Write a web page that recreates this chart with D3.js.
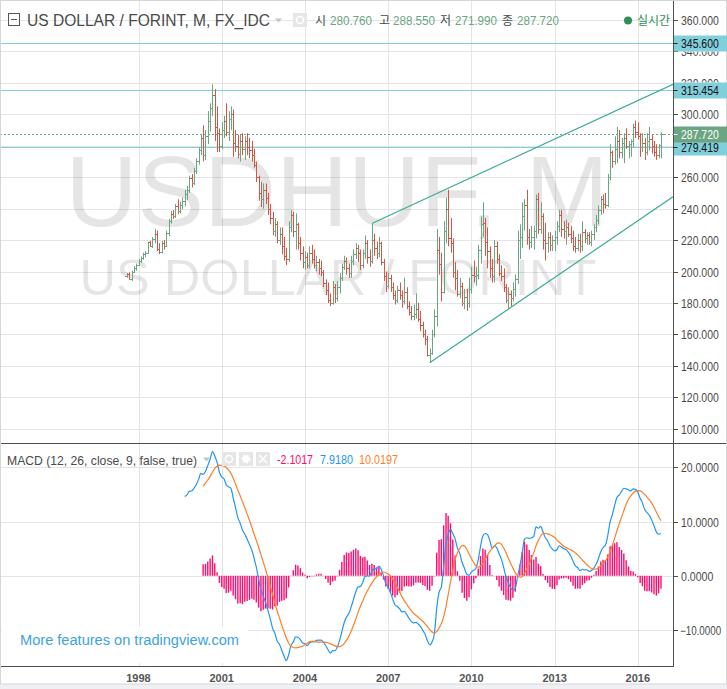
<!DOCTYPE html>
<html>
<head>
<meta charset="utf-8">
<script src="https://cdnjs.cloudflare.com/ajax/libs/d3/7.8.5/d3.min.js"></script>
<style>
  html, body { margin: 0; padding: 0; background: #fff; }
  svg { display: block; font-family: Arial, "Liberation Sans", sans-serif; }
</style>
</head>
<body>
<svg id="chart"></svg>
<script>
// monthly bars, first bar = Aug 1997
const firstMonth = [1997, 7];

const opens = [
  197.0, 198.5, 195.5, 199.5, 202.5,
  204.0, 207.0, 208.5, 211.0, 212.0, 218.5, 216.5, 220.5, 224.0, 214.5, 212.5, 218.0,
  216.5, 224.5, 232.0, 236.5, 235.0, 241.5, 238.5, 242.5, 245.0, 249.5, 252.0, 259.5,
  256.0, 264.0, 270.0, 277.0, 285.0, 274.0, 286.0, 296.0, 304.0, 312.0, 292.0, 288.0,
  280.0, 290.0, 296.0, 289.0, 297.0, 300.0, 282.0, 280.0, 275.0, 283.0, 278.0, 283.0,
  279.0, 277.0, 274.0, 268.0, 260.0, 250.0, 246.0, 252.0, 247.0, 240.0, 234.0, 226.0,
  230.0, 220.0, 224.0, 216.0, 210.0, 208.0, 228.0, 236.0, 226.0, 230.0, 218.0, 212.0,
  206.0, 209.0, 204.0, 212.0, 208.0, 204.0, 206.0, 202.0, 200.0, 193.0, 188.0, 182.0,
  180.0, 190.0, 183.0, 190.0, 196.0, 203.0, 207.0, 202.0, 199.0, 207.0, 211.0, 215.0,
  212.0, 204.0, 212.0, 218.0, 209.0, 207.0, 220.0, 215.0, 212.0, 218.0, 206.0, 197.0,
  191.0, 196.0, 190.0, 185.0, 182.0, 188.0, 185.0, 181.0, 187.0, 178.0, 174.0, 172.0,
  173.0, 176.0, 170.0, 166.0, 160.0, 157.0, 147.0, 148.0, 160.0, 172.0, 214.0, 205.0,
  187.0, 226.0, 240.0, 221.0, 218.0, 200.0, 196.0, 186.0, 191.0, 180.0, 184.0, 180.0,
  189.0, 198.0, 197.0, 198.0, 214.0, 230.0, 231.0, 219.0, 213.0, 202.0, 197.0, 216.0,
  208.0, 199.0, 197.0, 190.0, 182.0, 186.0, 183.0, 189.0, 195.0, 220.0, 222.0, 235.0,
  242.0, 222.0, 219.0, 222.0, 226.0, 246.0, 227.0, 235.0, 220.0, 218.0, 222.0, 217.0,
  220.0, 222.0, 229.0, 236.0, 227.0, 226.0, 228.0, 224.0, 221.0, 216.0, 215.0, 220.0,
  216.0, 225.0, 221.0, 223.0, 219.0, 224.0, 228.0, 233.0, 239.0, 246.0, 243.0, 242.0,
  260.0, 276.0, 270.0, 278.0, 283.0, 276.0, 282.0, 285.0, 280.0, 281.0, 283.0, 292.0,
  289.0, 286.0, 279.0, 282.0, 276.0, 283.0, 284.0, 280.0, 276.0, 274.0, 280.76
];
const highs = [
  199.0, 199.5, 200.5, 203.5, 205.0,
  208.0, 209.5, 212.0, 213.0, 219.0, 219.5, 222.0, 227.0, 226.0, 218.0, 219.5, 220.0,
  226.0, 233.5, 238.5, 239.0, 243.0, 246.0, 244.5, 247.0, 252.0, 254.5, 261.0, 262.0,
  266.0, 272.0, 279.0, 287.0, 293.0, 290.0, 302.0, 307.0, 319.0, 316.0, 305.0, 291.0,
  295.0, 299.0, 307.0, 302.0, 305.0, 303.0, 290.0, 287.0, 287.0, 288.0, 286.0, 288.0,
  285.0, 283.0, 278.0, 270.0, 261.0, 257.0, 256.0, 256.0, 250.0, 243.0, 238.0, 234.0,
  232.0, 228.0, 228.0, 222.0, 215.0, 232.0, 239.0, 238.0, 237.0, 231.0, 222.0, 216.0,
  213.0, 212.0, 216.0, 217.0, 214.0, 210.0, 208.0, 207.0, 201.0, 195.0, 193.0, 186.0,
  194.0, 192.0, 194.0, 199.0, 205.0, 210.0, 209.0, 205.0, 210.0, 214.0, 218.0, 217.0,
  214.0, 214.0, 223.0, 220.0, 214.0, 230.5, 224.0, 219.0, 222.0, 219.0, 208.0, 200.0,
  199.0, 198.0, 193.0, 188.0, 191.0, 193.0, 188.0, 196.0, 190.0, 181.0, 178.0, 179.0,
  186.0, 180.0, 175.0, 168.0, 163.0, 159.0, 151.0, 163.0, 176.0, 227.0, 222.0, 212.0,
  232.0, 247.0, 252.0, 234.0, 221.0, 206.0, 201.0, 196.0, 193.0, 189.0, 189.0, 196.0,
  203.0, 207.0, 203.0, 217.0, 235.0, 244.0, 234.0, 228.0, 216.0, 208.0, 220.0, 219.0,
  211.0, 204.0, 202.0, 192.0, 190.0, 188.0, 193.0, 198.0, 226.0, 230.0, 244.0, 246.0,
  252.0, 227.0, 229.0, 229.0, 249.0, 250.0, 244.0, 237.0, 231.0, 225.0, 225.0, 223.0,
  226.0, 232.0, 239.0, 239.0, 232.0, 233.0, 231.0, 229.0, 226.0, 222.0, 224.0, 224.0,
  232.0, 227.0, 225.0, 225.0, 226.0, 230.0, 236.0, 242.0, 248.0, 249.0, 250.0, 262.0,
  281.0, 277.0, 286.0, 292.0, 290.0, 285.0, 288.0, 291.0, 283.0, 284.0, 294.0, 296.0,
  295.0, 288.0, 288.0, 285.0, 288.0, 292.0, 287.0, 283.0, 281.0, 281.0, 288.55
];
const lows = [
  196.0, 195.0, 194.0, 199.0, 200.5,
  203.5, 205.5, 207.5, 209.0, 211.5, 215.5, 215.0, 218.0, 213.0, 211.0, 211.5, 214.0,
  215.5, 222.5, 230.5, 233.5, 234.0, 236.5, 237.0, 239.5, 241.5, 245.5, 250.0, 253.5,
  255.0, 262.0, 268.0, 274.0, 270.0, 271.0, 281.0, 289.0, 299.0, 283.0, 276.0, 276.0,
  278.0, 285.0, 286.0, 283.0, 290.0, 273.0, 276.0, 272.0, 270.0, 274.0, 271.0, 274.0,
  272.0, 270.0, 266.0, 257.0, 245.0, 241.0, 240.0, 243.0, 236.0, 230.0, 223.0, 222.0,
  218.0, 217.0, 211.0, 207.0, 204.0, 206.0, 225.0, 222.0, 214.0, 214.0, 207.0, 202.0,
  201.0, 202.0, 202.0, 205.0, 202.0, 200.0, 198.0, 197.0, 190.0, 185.0, 180.0, 178.0,
  179.0, 180.0, 181.0, 186.0, 194.0, 201.0, 198.0, 196.0, 196.0, 204.0, 208.0, 206.0,
  201.0, 202.0, 208.0, 205.0, 203.0, 205.0, 210.0, 208.0, 209.0, 204.0, 194.0, 187.0,
  189.0, 187.0, 182.0, 179.0, 180.0, 182.0, 177.0, 179.0, 176.0, 172.0, 169.0, 169.0,
  170.0, 168.0, 162.0, 158.0, 153.0, 146.0, 142.0, 147.0, 158.0, 165.0, 198.0, 181.0,
  186.0, 218.0, 216.0, 212.0, 196.0, 188.0, 184.0, 183.0, 178.0, 176.0, 175.0, 177.0,
  186.0, 193.0, 191.0, 195.0, 205.0, 222.0, 210.0, 202.0, 196.0, 193.0, 193.0, 205.0,
  197.0, 194.0, 187.0, 180.0, 176.0, 178.0, 181.0, 184.0, 192.0, 208.0, 215.0, 226.0,
  217.0, 214.0, 215.0, 214.0, 221.0, 224.0, 224.0, 214.0, 207.0, 212.0, 213.0, 213.0,
  213.0, 217.0, 225.0, 222.0, 221.0, 217.0, 222.0, 218.0, 213.0, 212.0, 213.0, 212.0,
  213.0, 218.0, 217.0, 217.0, 216.0, 220.0, 225.0, 230.0, 236.0, 237.0, 240.0, 241.0,
  258.0, 266.0, 268.0, 269.0, 272.0, 272.0, 269.0, 278.0, 272.0, 273.0, 279.0, 285.0,
  284.0, 273.0, 276.0, 271.0, 274.0, 277.0, 275.0, 273.0, 271.0, 272.0, 271.99
];
const closes = [
  198.5, 195.5, 199.5, 202.5, 204.0,
  207.0, 208.5, 211.0, 212.0, 218.5, 216.5, 220.5, 224.0, 214.5, 212.5, 218.0, 216.5,
  224.5, 232.0, 236.5, 235.0, 241.5, 238.5, 242.5, 245.0, 249.5, 252.0, 259.5, 256.0,
  264.0, 270.0, 277.0, 285.0, 274.0, 286.0, 296.0, 304.0, 312.0, 292.0, 288.0, 280.0,
  290.0, 296.0, 289.0, 297.0, 300.0, 282.0, 280.0, 275.0, 283.0, 278.0, 283.0, 279.0,
  277.0, 274.0, 268.0, 260.0, 250.0, 246.0, 252.0, 247.0, 240.0, 234.0, 226.0, 230.0,
  220.0, 224.0, 216.0, 210.0, 208.0, 228.0, 236.0, 226.0, 230.0, 218.0, 212.0, 206.0,
  209.0, 204.0, 212.0, 208.0, 204.0, 206.0, 202.0, 200.0, 193.0, 188.0, 182.0, 180.0,
  190.0, 183.0, 190.0, 196.0, 203.0, 207.0, 202.0, 199.0, 207.0, 211.0, 215.0, 212.0,
  204.0, 212.0, 218.0, 209.0, 207.0, 220.0, 215.0, 212.0, 218.0, 206.0, 197.0, 191.0,
  196.0, 190.0, 185.0, 182.0, 188.0, 185.0, 181.0, 187.0, 178.0, 174.0, 172.0, 173.0,
  176.0, 170.0, 166.0, 160.0, 157.0, 147.0, 148.0, 160.0, 172.0, 214.0, 205.0, 187.0,
  226.0, 240.0, 221.0, 218.0, 200.0, 196.0, 186.0, 191.0, 180.0, 184.0, 180.0, 189.0,
  198.0, 197.0, 198.0, 214.0, 230.0, 231.0, 219.0, 213.0, 202.0, 197.0, 216.0, 208.0,
  199.0, 197.0, 190.0, 182.0, 186.0, 183.0, 189.0, 195.0, 220.0, 222.0, 235.0, 242.0,
  222.0, 219.0, 222.0, 226.0, 246.0, 227.0, 235.0, 220.0, 218.0, 222.0, 217.0, 220.0,
  222.0, 229.0, 236.0, 227.0, 226.0, 228.0, 224.0, 221.0, 216.0, 215.0, 220.0, 216.0,
  225.0, 221.0, 223.0, 219.0, 224.0, 228.0, 233.0, 239.0, 246.0, 243.0, 242.0, 260.0,
  276.0, 270.0, 278.0, 283.0, 276.0, 282.0, 285.0, 280.0, 281.0, 283.0, 292.0, 289.0,
  286.0, 279.0, 282.0, 276.0, 283.0, 284.0, 280.0, 276.0, 274.0, 280.76, 287.72
];

const priceTicks = [100, 120, 140, 160, 180, 200, 220, 240, 260, 280, 300, 320, 340, 360];
const macdTicks = [-10, 0, 10, 20];
const yearTicks = [1998, 2001, 2004, 2007, 2010, 2013, 2016];

// horizontal levels drawn on the chart
const levels = [345.6, 315.454, 279.419];
// trend channel, [year, month, day, value]
const upperChannel = [[2006, 5, 1, 230.5], [2017, 3, 8, 319.1]];
const lowerChannel = [[2008, 6, 1, 142.0], [2017, 3, 8, 247.5]];

const title = "US DOLLAR / FORINT, M, FX_IDC";
const ohlcNames = ["시", "고", "저", "종"];
const macdTitle = "MACD (12, 26, close, 9, false, true)";
const macdLegend = ["-2.1017", "7.9180", "10.0197"];
const wmMain = "USDHUF, M";
const wmSub = "US DOLLAR / FORINT";

const W = 727, H = 689, axisX = 673.5;
const UP = "#6ba583", DOWN = "#d75442";
const CYAN = "#82cfdc";

const bars = closes.map((c, i) => ({
  date: new Date(firstMonth[0], firstMonth[1] + i, 1),
  o: opens[i], h: highs[i], l: lows[i], c: c
}));

const x = d3.scaleTime()
  .domain([new Date(1998, 0, 1), new Date(2016, 0, 1)])
  .range([138.5, 637.8]);
const y = d3.scaleLinear().domain([100, 360]).range([428.7, 20]);
const ym = d3.scaleLinear().domain([-10, 20]).range([630, 467.3]);
const snap = v => Math.round(v) + 0.5;

// MACD (ema seeded with sma, signal = sma)
function ema(src, n) {
  const a = 2 / (n + 1);
  let prev = null;
  return src.map((v, i) => {
    if (i < n - 1) return null;
    prev = prev === null ? d3.mean(src.slice(i - n + 1, i + 1)) : a * v + (1 - a) * prev;
    return prev;
  });
}
const fast = ema(closes, 12), slow = ema(closes, 26);
const macd = closes.map((c, i) => (fast[i] !== null && slow[i] !== null) ? fast[i] - slow[i] : null);
const signal = macd.map((m, i) => {
  if (i < 8) return null;
  const w = macd.slice(i - 8, i + 1);
  return w.some(v => v === null) ? null : d3.mean(w);
});
const hist = macd.map((m, i) => signal[i] === null ? null : m - signal[i]);

const svg = d3.select("#chart").attr("width", W).attr("height", H);
const defs = svg.append("defs");
defs.append("clipPath").attr("id", "clipMain")
  .append("rect").attr("x", 0).attr("y", 0).attr("width", 673).attr("height", 443);
defs.append("clipPath").attr("id", "clipMacd")
  .append("rect").attr("x", 0).attr("y", 444).attr("width", 673).attr("height", 222);

svg.append("rect").attr("width", W).attr("height", H).attr("fill", "#fff");

// grid
const grid = svg.append("g").attr("stroke", "#e4e4e4").attr("shape-rendering", "crispEdges");
grid.selectAll(".gy").data(priceTicks).join("line")
  .attr("x1", 0).attr("x2", 673).attr("y1", d => snap(y(d))).attr("y2", d => snap(y(d)));
grid.selectAll(".gm").data(macdTicks).join("line")
  .attr("x1", 0).attr("x2", 673).attr("y1", d => snap(ym(d))).attr("y2", d => snap(ym(d)));
grid.selectAll(".gx").data(yearTicks).join("line")
  .attr("x1", d => snap(x(new Date(d, 0, 1)))).attr("x2", d => snap(x(new Date(d, 0, 1))))
  .attr("y1", 0).attr("y2", 666);

// watermark
svg.append("text").attr("x", 337).attr("y", 226).attr("text-anchor", "middle")
  .attr("font-size", 100).attr("fill", "rgba(0,0,0,0.1)")
  .attr("textLength", 543).attr("lengthAdjust", "spacingAndGlyphs").text(wmMain);
svg.append("text").attr("x", 338).attr("y", 295).attr("text-anchor", "middle")
  .attr("font-size", 50).attr("fill", "rgba(0,0,0,0.1)")
  .attr("textLength", 517).attr("lengthAdjust", "spacingAndGlyphs").text(wmSub);

const main = svg.append("g").attr("clip-path", "url(#clipMain)");

// horizontal levels
main.selectAll(".lvl").data(levels).join("line")
  .attr("x1", 0).attr("x2", 673).attr("y1", d => snap(y(d))).attr("y2", d => snap(y(d)))
  .attr("stroke", CYAN).attr("stroke-width", 1.2);
const last = bars[bars.length - 1];
main.append("line").attr("x1", 0).attr("x2", 673)
  .attr("y1", snap(y(last.c))).attr("y2", snap(y(last.c)))
  .attr("stroke", UP).attr("stroke-dasharray", "2,2");

// channel
const chan = d3.line().x(d => x(new Date(d[0], d[1], d[2]))).y(d => y(d[3]));
main.selectAll(".chan").data([upperChannel, lowerChannel]).join("path")
  .attr("d", chan).attr("fill", "none").attr("stroke", "#3aab96").attr("stroke-width", 1.2);

// OHLC bars
main.selectAll(".bar").data(bars).join("path")
  .attr("d", d => {
    const px = snap(x(d.date));
    return `M${px},${y(d.h)}V${y(d.l)}M${px - 2.5},${snap(y(d.o))}H${px}M${px},${snap(y(d.c))}H${px + 2.5}`;
  })
  .attr("fill", "none").attr("stroke", d => d.c >= d.o ? UP : DOWN).attr("stroke-width", 1);

// MACD pane
const pane = svg.append("g").attr("clip-path", "url(#clipMacd)");
const zeroY = ym(0);
pane.selectAll(".hist").data(bars.map((b, i) => ({ date: b.date, v: hist[i] })).filter(d => d.v !== null))
  .join("line")
  .attr("x1", d => x(d.date)).attr("x2", d => x(d.date))
  .attr("y1", zeroY).attr("y2", d => ym(d.v))
  .attr("stroke", "#ff0a6e").attr("stroke-width", 1.4);
const mline = d3.line().defined(d => d.v !== null).x(d => x(d.date)).y(d => ym(d.v)).curve(d3.curveMonotoneX);
pane.append("path").datum(bars.map((b, i) => ({ date: b.date, v: macd[i] })))
  .attr("d", mline).attr("fill", "none").attr("stroke", "#2196f3").attr("stroke-width", 1.2);
pane.append("path").datum(bars.map((b, i) => ({ date: b.date, v: signal[i] })))
  .attr("d", mline).attr("fill", "none").attr("stroke", "#ff7f27").attr("stroke-width", 1.2);

// promo box
svg.append("rect").attr("x", 2).attr("y", 627).attr("width", 246).attr("height", 36).attr("fill", "#fff");
svg.append("text").attr("x", 20).attr("y", 645).attr("font-size", 14).attr("fill", "#3ca3e0")
  .attr("textLength", 219).attr("lengthAdjust", "spacingAndGlyphs")
  .text("More features on tradingview.com");

// frame
const frame = svg.append("g").attr("stroke", "#4f4f4f").attr("shape-rendering", "crispEdges");
frame.append("line").attr("x1", axisX).attr("x2", axisX).attr("y1", 0).attr("y2", 666.5);
frame.append("line").attr("x1", 0).attr("x2", W).attr("y1", 443.5).attr("y2", 443.5);
frame.append("line").attr("x1", 0).attr("x2", axisX).attr("y1", 666.5).attr("y2", 666.5);
svg.append("rect").attr("x", 0).attr("y", 684).attr("width", W).attr("height", 5).attr("fill", "#eef0f3");
svg.append("rect").attr("x", 0.5).attr("y", 0.5).attr("width", W - 1).attr("height", 683.5)
  .attr("fill", "none").attr("stroke", "#d6d6d6");

// right axes; a tick label that sits under a level tag is clipped away round the tag
const tagYs = levels.concat([last.c]).map(v => snap(y(v)));
const axisG = svg.append("g").attr("font-size", 12).attr("fill", "#4a4a4a");
const priceFmt = d3.format(".3f"), macdFmt = d3.format(".4f");
function axisLabels(ticks, scale, fmt) {
  ticks.forEach(t => {
    const yy = snap(scale(t));
    const s = fmt(t);
    const hit = scale === y && tagYs.some(ty => Math.abs(ty - yy) < 13);
    axisG.append("line").attr("x1", axisX).attr("x2", axisX + 4).attr("y1", yy).attr("y2", yy)
      .attr("stroke", "#4f4f4f").attr("shape-rendering", "crispEdges");
    if (hit) return;
    axisG.append("text").attr("x", t < 0 ? 680 : 681).attr("y", yy + 4.5)
      .attr("textLength", s.length * 5.4 - (t < 0 ? 2 : 0)).attr("lengthAdjust", "spacingAndGlyphs")
      .text(s);
  });
}
axisLabels(priceTicks, y, priceFmt);
axisLabels(macdTicks, ym, macdFmt);

// slivers of the covered tick labels that peek out from under the tags
const sliver = priceTicks.filter(t => {
  const yy = snap(y(t));
  return tagYs.some(ty => Math.abs(ty - yy) < 13) && !tagYs.some(ty => Math.abs(ty - yy) < 6);
});
sliver.forEach((t, k) => {
  const yy = snap(y(t));
  const ty = tagYs.reduce((a, b) => Math.abs(b - yy) < Math.abs(a - yy) ? b : a);
  const top = yy > ty ? ty + 8 : yy - 6;
  const bottom = yy > ty ? yy + 6 : ty - 8;
  defs.append("clipPath").attr("id", "sl" + k)
    .append("rect").attr("x", 674).attr("y", top).attr("width", 53).attr("height", Math.max(0, bottom - top));
  axisG.append("text").attr("x", 681).attr("y", yy + 4.5).attr("clip-path", `url(#sl${k})`)
    .attr("textLength", 7 * 5.4).attr("lengthAdjust", "spacingAndGlyphs").text(priceFmt(t));
});

// level tags
const tags = levels.map(v => ({ v, bg: CYAN, fg: "#111" }))
  .concat([{ v: last.c, bg: UP, fg: "#fff" }]);
tags.forEach(t => {
  const yy = snap(y(t.v));
  axisG.append("rect").attr("x", 674).attr("y", yy - 8).attr("width", 53).attr("height", 16).attr("fill", t.bg);
  axisG.append("line").attr("x1", axisX).attr("x2", axisX + 4).attr("y1", yy).attr("y2", yy)
    .attr("stroke", t.fg === "#fff" ? "#fff" : "#222");
  const s = priceFmt(t.v);
  axisG.append("text").attr("x", 681).attr("y", yy + 4.5).attr("fill", t.fg)
    .attr("textLength", s.length * 5.4).attr("lengthAdjust", "spacingAndGlyphs").text(s);
});

// year labels
svg.append("g").selectAll("text").data(yearTicks).join("text")
  .attr("x", d => x(new Date(d, 0, 1))).attr("y", 682).attr("text-anchor", "middle")
  .attr("font-size", 11).attr("font-weight", "bold").attr("fill", "#555").text(d => d);

// header
const head = svg.append("g");
head.append("rect").attr("x", 8.5).attr("y", 13.5).attr("width", 11).attr("height", 12)
  .attr("fill", "#fff").attr("stroke", "#555");
head.append("line").attr("x1", 11).attr("x2", 17).attr("y1", 19.5).attr("y2", 19.5).attr("stroke", "#555");
head.append("text").attr("x", 27).attr("y", 26).attr("font-size", 17).attr("fill", "#4a4a4a")
  .attr("textLength", 243).attr("lengthAdjust", "spacingAndGlyphs").text(title);
head.append("path").attr("d", "M275,18.5h7l-3.5,4z").attr("fill", "#c4c4c4");
head.append("rect").attr("x", 293).attr("y", 13).attr("width", 14).attr("height", 14).attr("fill", "#e6e6e6");
head.append("circle").attr("cx", 300).attr("cy", 20).attr("r", 3.5).attr("fill", "none").attr("stroke", "#fff").attr("stroke-width", 1.5);

const ohlcVals = [last.o, last.h, last.l, last.c].map(priceFmt);
const nameX = [315, 379, 440, 502], valX = [330, 393, 455, 517];
ohlcNames.forEach((n, i) => {
  head.append("text").attr("x", nameX[i]).attr("y", 25).attr("font-size", 12)
    .attr("font-family", "'Noto Sans CJK KR', sans-serif").attr("fill", "#4a4a4a").text(n);
  head.append("text").attr("x", valX[i]).attr("y", 25).attr("font-size", 12.5)
    .attr("fill", UP).attr("textLength", 42).attr("lengthAdjust", "spacingAndGlyphs").text(ohlcVals[i]);
});
head.append("circle").attr("cx", 628).attr("cy", 20.5).attr("r", 4).attr("fill", "#2e8f5a");
head.append("text").attr("x", 637).attr("y", 25).attr("font-size", 12)
  .attr("font-family", "'Noto Sans CJK KR', sans-serif").attr("fill", "#2e8f5a").text("실시간");

// MACD header
const mh = svg.append("g");
mh.append("text").attr("x", 7).attr("y", 465).attr("font-size", 13).attr("fill", "#4a4a4a")
  .attr("textLength", 190).attr("lengthAdjust", "spacingAndGlyphs").text(macdTitle);
mh.append("path").attr("d", "M203,457.5h7l-3.5,4z").attr("fill", "#c4c4c4");
[222, 239, 256].forEach((bx, i) => {
  mh.append("rect").attr("x", bx).attr("y", 452).attr("width", 14).attr("height", 14).attr("fill", "#e6e6e6");
  if (i === 0) mh.append("circle").attr("cx", bx + 7).attr("cy", 459).attr("r", 3.5)
    .attr("fill", "none").attr("stroke", "#fff").attr("stroke-width", 1.5);
  if (i === 1) mh.append("circle").attr("cx", bx + 7).attr("cy", 459).attr("r", 3.5)
    .attr("fill", "#fff").attr("stroke", "#fff").attr("stroke-width", 2).attr("stroke-dasharray", "2,1.4");
  if (i === 2) mh.append("path").attr("d", `M${bx + 3},455l8,8M${bx + 11},455l-8,8`)
    .attr("stroke", "#fff").attr("stroke-width", 1.6);
});
const legX = [277, 320, 359], legC = ["#ff0a6e", "#2196f3", "#ff7f27"], legW = [36, 33, 39];
macdLegend.forEach((s, i) => {
  mh.append("text").attr("x", legX[i]).attr("y", 464).attr("font-size", 13).attr("fill", legC[i])
    .attr("textLength", legW[i]).attr("lengthAdjust", "spacingAndGlyphs").text(s);
});
</script>
</body>
</html>
